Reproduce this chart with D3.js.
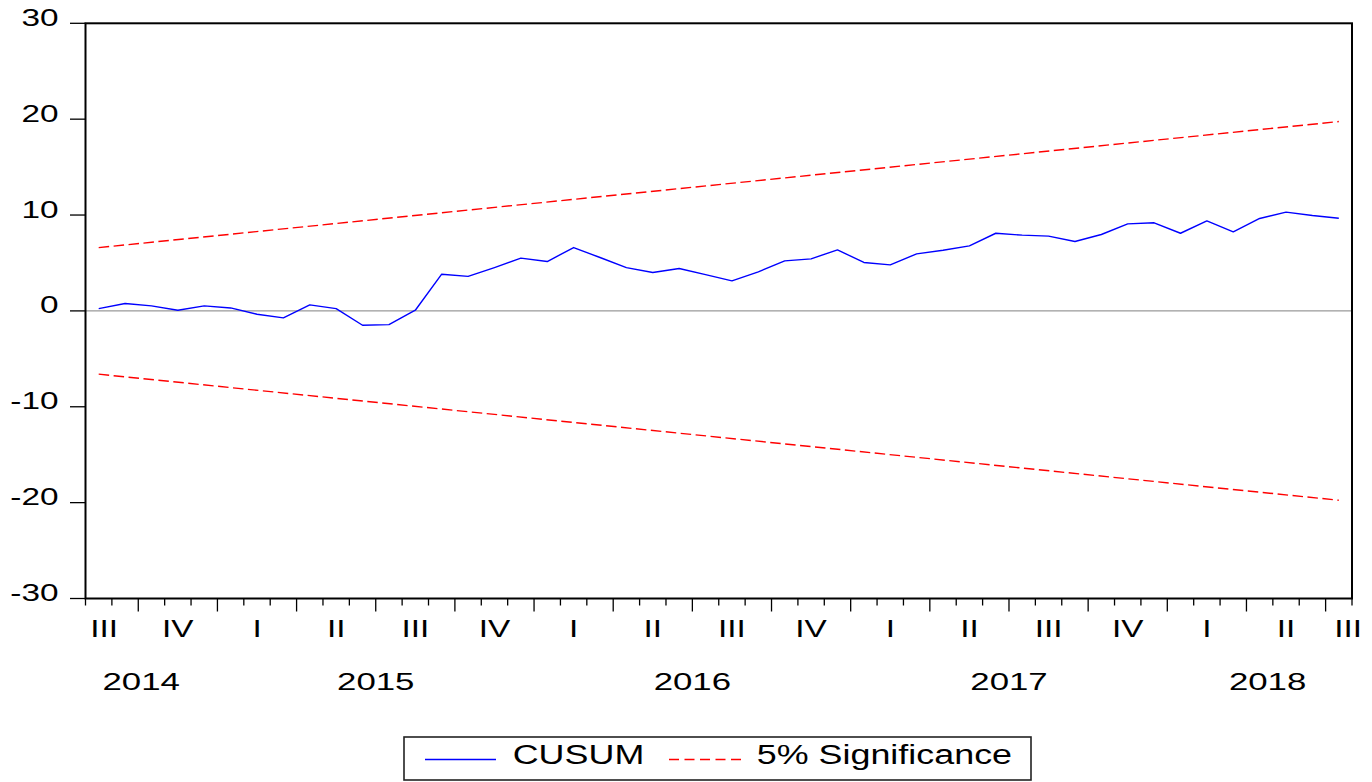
<!DOCTYPE html>
<html>
<head>
<meta charset="utf-8">
<script src="https://cdn.jsdelivr.net/npm/d3@7"></script>
<style>
  html, body { margin: 0; padding: 0; background: #fff; }
  svg { display: block; }
  text { font-family: "Liberation Sans", Arial, sans-serif; fill: #000; }
</style>
</head>
<body>
<svg id="chart" width="1372" height="782"></svg>
<script>
// ---- data (monthly, 2014M08 .. 2018M07) ----
const cusum = [0.24, 0.77, 0.52, 0.07, 0.52, 0.31, -0.35, -0.73, 0.63, 0.24, -1.5, -1.43,
  0.07, 3.83, 3.6, 4.52, 5.5, 5.15, 6.61, 5.57, 4.52, 4.0, 4.42, 3.78,
  3.13, 4.07, 5.22, 5.43, 6.37, 5.05, 4.8, 5.95, 6.33, 6.78, 8.1, 7.9,
  7.8, 7.24, 7.97, 9.08, 9.19, 8.1, 9.39, 8.25, 9.64, 10.3, 9.95, 9.67];
const boundIndex = [0, 47];
const upper5 = [6.6, 19.75];
const lower5 = [-6.6, -19.75];
const yTicks = [30, 20, 10, 0, -10, -20, -30];
const quarterLabels = ["III", "IV", "I", "II", "III", "IV", "I", "II", "III", "IV", "I", "II", "III", "IV", "I", "II", "III"];
const quarterPos = [0.71, 3.5, 6.5, 9.5, 12.5, 15.5, 18.5, 21.5, 24.5, 27.5, 30.5, 33.5, 36.5, 39.5, 42.5, 45.5, 47.85];
const yearLabels = ["2014", "2015", "2016", "2017", "2018"];
const yearPos = [2.11, 11, 23, 35, 44.8];
const months = d3.timeMonth.range(new Date(2014, 7, 1), new Date(2018, 7, 1));
const legendItems = ["CUSUM", "5% Significance"];

// ---- layout ----
const svg = d3.select("#chart");
const L = 85.5, R = 1352, T = 23.3, B = 598.5;
const xb = d3.scaleLinear().domain([0, months.length]).range([L, R]); // month boundaries
const xp = i => xb(i + 0.5);                                          // month centres
const y = d3.scaleLinear().domain([-30, 30]).range([B, T]);
const AX_FS = 23, AX_SX = 1.45;

// zero line
svg.append("line")
  .attr("x1", L).attr("x2", R).attr("y1", y(0)).attr("y2", y(0))
  .attr("stroke", "#808080").attr("stroke-width", 1);

// significance bounds
const bLine = d3.line().x((d, k) => xp(boundIndex[k])).y(d => y(d));
[upper5, lower5].forEach(b => {
  svg.append("path").attr("d", bLine(b))
    .attr("fill", "none").attr("stroke", "#ff0000")
    .attr("stroke-width", 1.4).attr("stroke-dasharray", "10.5,4.5");
});

// CUSUM
svg.append("path")
  .attr("d", d3.line().x((d, i) => xp(i)).y(d => y(d))(cusum))
  .attr("fill", "none").attr("stroke", "#0000ff").attr("stroke-width", 1.4)
  .attr("stroke-linejoin", "round");

// frame
svg.append("rect").attr("x", L).attr("y", T).attr("width", R - L).attr("height", B - T)
  .attr("fill", "none").attr("stroke", "#000").attr("stroke-width", 2);

// y axis ticks + labels
const yAxis = svg.append("g");
yTicks.forEach(t => {
  yAxis.append("line").attr("x1", 70).attr("x2", L).attr("y1", y(t)).attr("y2", y(t))
    .attr("stroke", "#000").attr("stroke-width", 1.3);
  yAxis.append("text")
    .attr("transform", `translate(58.5,${y(t) + 2.5}) scale(${AX_SX},1)`)
    .attr("text-anchor", "end").attr("font-size", AX_FS)
    .text(t);
});

// x axis ticks
const xAxis = svg.append("g");
d3.range(0, months.length + 1).forEach(i => {
  const m = i < months.length ? months[i].getMonth() : 7;
  const major = m % 3 === 0;
  xAxis.append("line").attr("x1", xb(i)).attr("x2", xb(i))
    .attr("y1", B).attr("y2", B + (major ? 13 : 7))
    .attr("stroke", "#000").attr("stroke-width", 1.3);
});
quarterLabels.forEach((q, k) => {
  xAxis.append("text")
    .attr("transform", `translate(${xb(quarterPos[k])},637) scale(${AX_SX},1)`)
    .attr("text-anchor", "middle").attr("font-size", AX_FS).text(q);
});
yearLabels.forEach((yr, k) => {
  xAxis.append("text")
    .attr("transform", `translate(${xb(yearPos[k])},690) scale(${AX_SX},1)`)
    .attr("text-anchor", "middle").attr("font-size", 24).text(yr);
});

// legend
const lg = svg.append("g");
lg.append("rect").attr("x", 404).attr("y", 737).attr("width", 627).attr("height", 43)
  .attr("fill", "#fff").attr("stroke", "#222").attr("stroke-width", 1.6);
lg.append("line").attr("x1", 425).attr("x2", 496).attr("y1", 759.5).attr("y2", 759.5)
  .attr("stroke", "#0000ff").attr("stroke-width", 1.4);
lg.append("text").attr("transform", "translate(512.7,764) scale(1.33,1)")
  .attr("font-size", 27).text(legendItems[0]);
lg.append("line").attr("x1", 669).attr("x2", 741).attr("y1", 759.5).attr("y2", 759.5)
  .attr("stroke", "#ff0000").attr("stroke-width", 1.4).attr("stroke-dasharray", "10,5.5");
lg.append("text").attr("transform", "translate(756.7,764) scale(1.33,1)")
  .attr("font-size", 27).text(legendItems[1]);
</script>
</body>
</html>
